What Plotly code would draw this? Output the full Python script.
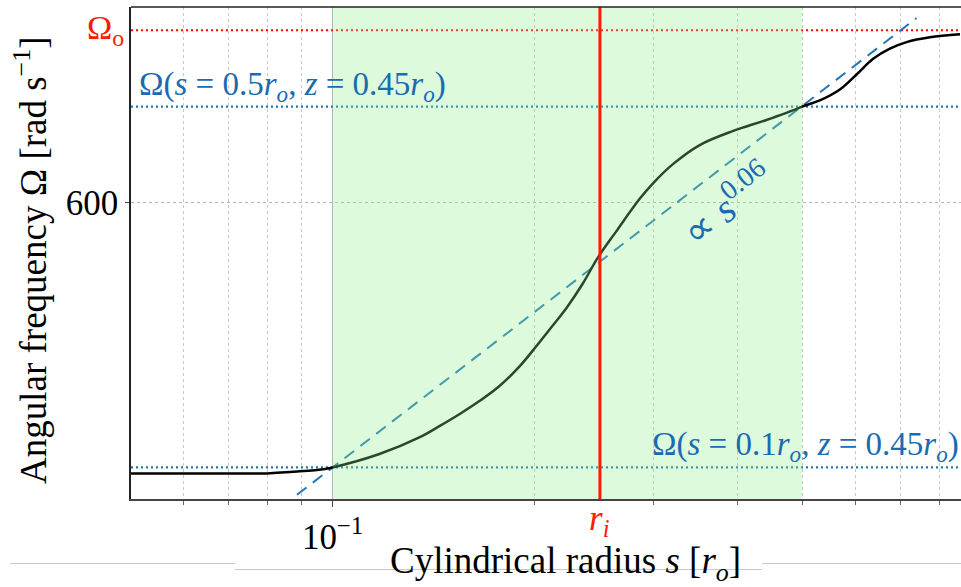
import plotly.graph_objects as go
import numpy as np

# ---- data ----
s_vals = [0.0501, 0.0599, 0.0699, 0.0799, 0.0826, 0.0885, 0.0948, 0.1000,
          0.1174, 0.1346, 0.1442, 0.1544, 0.1654, 0.1772, 0.1898, 0.2003, 0.2104,
          0.2228, 0.2359, 0.2481, 0.2644, 0.2865, 0.2999, 0.3211, 0.3520, 0.3947,
          0.4424, 0.4932, 0.5000, 0.5312, 0.5690, 0.6026, 0.6378, 0.6754, 0.7153,
          0.7750, 0.8590]
omega_vals = [558.1, 558.1, 558.1, 558.1, 558.2, 558.4, 558.6, 559.0,
              561.0, 563.5, 565.2, 567.0, 569.0, 571.3, 574.3, 577.2, 580.0,
              583.3, 587.2, 591.2, 595.4, 600.6, 603.1, 606.2, 609.3, 611.6,
              613.4, 615.3, 615.6, 616.6, 618.4, 620.9, 623.5, 625.2, 626.3,
              627.1, 627.6]

omega_outer = 628.3          # Ω_o
omega_s01 = 559.0            # Ω(s=0.1 r_o, z=0.45 r_o)
omega_s05 = 615.6            # Ω(s=0.5 r_o, z=0.45 r_o)
r_inner = 0.25               # r_i
shade_range = [0.1, 0.5]
fit_exponent = 0.06
fit_s = [0.0885, 0.740]
fit_omega = [omega_s01 * (s / 0.1) ** fit_exponent for s in fit_s]

x_ticks = [0.1]
x_ticklabels = ["10<sup>−1</sup>"]
x_minor = [0.05, 0.06, 0.07, 0.08, 0.09, 0.2, 0.3, 0.4, 0.5, 0.6, 0.7, 0.8]
y_ticks = [600]
y_ticklabels = ["600"]

x_range = [0.0501, 0.862]
y_range = [554.3, 632.2]

FONT = "Liberation Serif"
BLUE = "#1f77b4"
TXT_BLUE = "#1a6bb0"
RED = "#ff1a00"

fig = go.Figure()

# reference horizontal lines
fig.add_trace(go.Scatter(x=x_range, y=[omega_outer, omega_outer], mode="lines",
                         line=dict(color="red", width=2, dash="2px,3px"), hoverinfo="skip"))
fig.add_trace(go.Scatter(x=x_range, y=[omega_s05, omega_s05], mode="lines",
                         line=dict(color=BLUE, width=2.2, dash="2px,3px"), hoverinfo="skip"))
fig.add_trace(go.Scatter(x=x_range, y=[omega_s01, omega_s01], mode="lines",
                         line=dict(color=BLUE, width=2.2, dash="2px,3px"), hoverinfo="skip"))
# power-law fit
fig.add_trace(go.Scatter(x=fit_s, y=fit_omega, mode="lines",
                         line=dict(color=BLUE, width=2, dash="12px,8px"), hoverinfo="skip"))
# profile
fig.add_trace(go.Scatter(x=s_vals, y=omega_vals, mode="lines", line_shape="spline",
                         line=dict(color="black", width=2.5, smoothing=1.0), hoverinfo="skip"))

# shaded band drawn above lines (tints them)
fig.add_shape(type="rect", xref="x", yref="paper", x0=shade_range[0], x1=shade_range[1],
              y0=0, y1=1, fillcolor="rgba(144,238,144,0.3)", line_width=0, layer="above")
# inner radius line
fig.add_shape(type="line", xref="x", yref="paper", x0=r_inner, x1=r_inner, y0=0, y1=1,
              line=dict(color=RED, width=3), layer="above")
# top spine
fig.add_shape(type="line", xref="paper", yref="paper", x0=0, x1=1, y0=1, y1=1,
              line=dict(color="#222", width=1.5), layer="above")

# gray artefact lines under the x title
for (xa, xb, yy) in [(10, 235, 563.5), (235, 762, 569.5), (762, 961, 563.5)]:
    fig.add_shape(type="line", xref="paper", yref="paper",
                  x0=(xa - 131) / 830, x1=(xb - 131) / 830,
                  y0=(499 - yy) / 492, y1=(499 - yy) / 492,
                  line=dict(color="#c8c8c8", width=1), layer="below")

# annotations
fig.add_annotation(x=0.0, xref="paper", y=np.log10(omega_s05), yref="y",
                   text="Ω(<i>s</i> = 0.5<i>r</i><sub><i>o</i></sub>, <i>z</i> = 0.45<i>r</i><sub><i>o</i></sub>)",
                   showarrow=False, xanchor="left", yanchor="bottom", xshift=6, yshift=-2,
                   font=dict(family=FONT, size=33, color=TXT_BLUE))
fig.add_annotation(x=1.0, xref="paper", y=np.log10(omega_s01), yref="y",
                   text="Ω(<i>s</i> = 0.1<i>r</i><sub><i>o</i></sub>, <i>z</i> = 0.45<i>r</i><sub><i>o</i></sub>)",
                   showarrow=False, xanchor="right", yanchor="bottom", xshift=0, yshift=-2,
                   font=dict(family=FONT, size=33, color=TXT_BLUE))
fig.add_annotation(x=np.log10(0.386), xref="x", y=np.log10(599.9), yref="y",
                   text="∝ <i>s</i><sup>0.06</sup>", showarrow=False, textangle=-37.7,
                   font=dict(family=FONT, size=40, color=TXT_BLUE))
fig.add_annotation(x=0, xref="paper", y=np.log10(omega_outer), yref="y",
                   text="Ω<sub>o</sub>", showarrow=False, xanchor="right", xshift=-5,
                   font=dict(family=FONT, size=34, color=RED))
fig.add_annotation(x=np.log10(r_inner), xref="x", y=0, yref="paper",
                   text="<i>r</i><sub><i>i</i></sub>", showarrow=False, yanchor="top", yshift=2,
                   font=dict(family=FONT, size=35, color=RED))
# axis titles
fig.add_annotation(x=(565 - 131) / 830, xref="paper", y=(499 - 563) / 492, yref="paper",
                   text="Cylindrical radius <i>s</i> [<i>r</i><sub><i>o</i></sub>]",
                   showarrow=False, xanchor="center", yanchor="middle",
                   font=dict(family=FONT, size=37, color="black"))
fig.add_annotation(x=(30 - 131) / 830, xref="paper", y=(499 - 260) / 492, yref="paper",
                   text="Angular frequency Ω [rad s<sup>−1</sup>]", textangle=-90,
                   showarrow=False, xanchor="center", yanchor="middle",
                   font=dict(family=FONT, size=37, color="black"))

fig.update_xaxes(type="log", range=[np.log10(x_range[0]), np.log10(x_range[1])],
                 automargin=False,
                 tickmode="array", tickvals=x_ticks, ticktext=x_ticklabels,
                 ticks="outside", ticklen=6, tickcolor="#444", tickwidth=1,
                 showgrid=True, gridcolor="#b4b4b4", gridwidth=1,
                 minor=dict(tickmode="array", tickvals=x_minor, ticks="outside", ticklen=4,
                            tickcolor="#666", showgrid=True, gridcolor="#c8c8c8",
                            griddash="dot", gridwidth=1),
                 showline=True, linecolor="#444", linewidth=1.5, zeroline=False,
                 tickfont=dict(family=FONT, size=35, color="black"))
fig.update_yaxes(type="log", range=[np.log10(y_range[0]), np.log10(y_range[1])],
                 automargin=False,
                 tickmode="array", tickvals=y_ticks, ticktext=y_ticklabels,
                 ticks="outside", ticklen=4, tickcolor="#444",
                 showgrid=True, gridcolor="#b4b4b4", griddash="dot", gridwidth=1,
                 showline=True, linecolor="#222", linewidth=1.5, zeroline=False,
                 tickfont=dict(family=FONT, size=35, color="black"))

fig.update_layout(width=961, height=587, showlegend=False,
                  margin=dict(l=131, r=0, t=7, b=88),
                  plot_bgcolor="white", paper_bgcolor="white")

fig.write_html("out.html", config={"displayModeBar": False},
               post_script="document.body.style.margin='0';document.body.style.padding='0';")
